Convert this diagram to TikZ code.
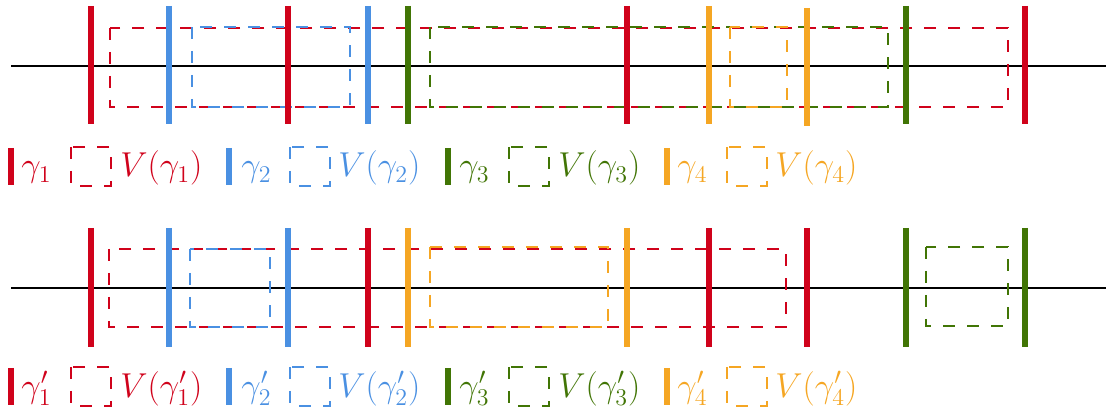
\documentclass[tikz,border=0pt]{standalone}
\definecolor{cr}{HTML}{D0021B}
\definecolor{cb}{HTML}{4A90E2}
\definecolor{cg}{HTML}{417505}
\definecolor{co}{HTML}{F5A623}
\tikzset{
  bar/.style={line width=2.75pt},
  vbox/.style={line width=1pt, dash pattern=on 6pt off 6pt},
  axisline/.style={line width=1pt, black},
  lab/.style={anchor=base west, inner sep=0pt, font=\fontsize{17}{20}\selectfont},
}
\begin{document}
\begin{tikzpicture}[x=0.5pt,y=-0.5pt]
\useasboundingbox (0,0) rectangle (1106,410);
% ---------- top row ----------
\coordinate (tl) at (11,66);
\coordinate (tr) at (1106,66);
\draw[axisline] (tl) -- (tr);
\draw[vbox,cr] (110,28) rectangle (1008,107);
\draw[vbox,cb] (192,27) rectangle (350,107);
\draw[vbox,cg] (430,27) rectangle (888,107);
\draw[vbox,co] (730,27) rectangle (787,107);
\foreach \x/\c in {91/cr,169/cb,288/cr,368/cb,408/cg,627/cr,709/co,906/cg,1025/cr}
  \draw[bar,\c] (\x,6) -- (\x,124);
\draw[bar,co] (807,8) -- (807,126);
% ---------- bottom row ----------
\coordinate (bl) at (11,288);
\coordinate (br) at (1106,288);
\draw[axisline] (bl) -- (br);
\draw[vbox,cr] (109,249) rectangle (786,327);
\draw[vbox,cb] (190,249) rectangle (270,327);
\draw[vbox,co] (430,247) rectangle (608,327);
\draw[vbox,cg] (926,247) rectangle (1008,326);
\foreach \x/\c in {91/cr,169/cb,288/cb,368/cr,408/co,627/co,709/cr,807/cr,906/cg,1025/cg}
  \draw[bar,\c] (\x,228) -- (\x,347);
% ---------- legends ----------
\foreach \bx/\gx/\rx/\vx/\c/\n in {11/21/71/120/cr/1,229/241/290/338/cb/2,448/459/509/558/cg/3,667/677/727/775/co/4}{
  \draw[bar,\c] (\bx,148) -- (\bx,185);
  \node[lab,text=\c] (g\n) at (\gx,177) {$\gamma_{\n}$};
  \draw[vbox,\c] (\rx,147) rectangle (\rx+40,186);
  \node[lab,text=\c] (v\n) at (\vx,177) {$V(\gamma_{\n})$};
  \draw[bar,\c] (\bx,368) -- (\bx,405);
  \node[lab,text=\c] (gp\n) at (\gx,397) {$\gamma'_{\n}$};
  \draw[vbox,\c] (\rx,367) rectangle (\rx+40,406);
  \node[lab,text=\c] (vp\n) at (\vx,397) {$V(\gamma'_{\n})$};
}
\end{tikzpicture}
\end{document}
